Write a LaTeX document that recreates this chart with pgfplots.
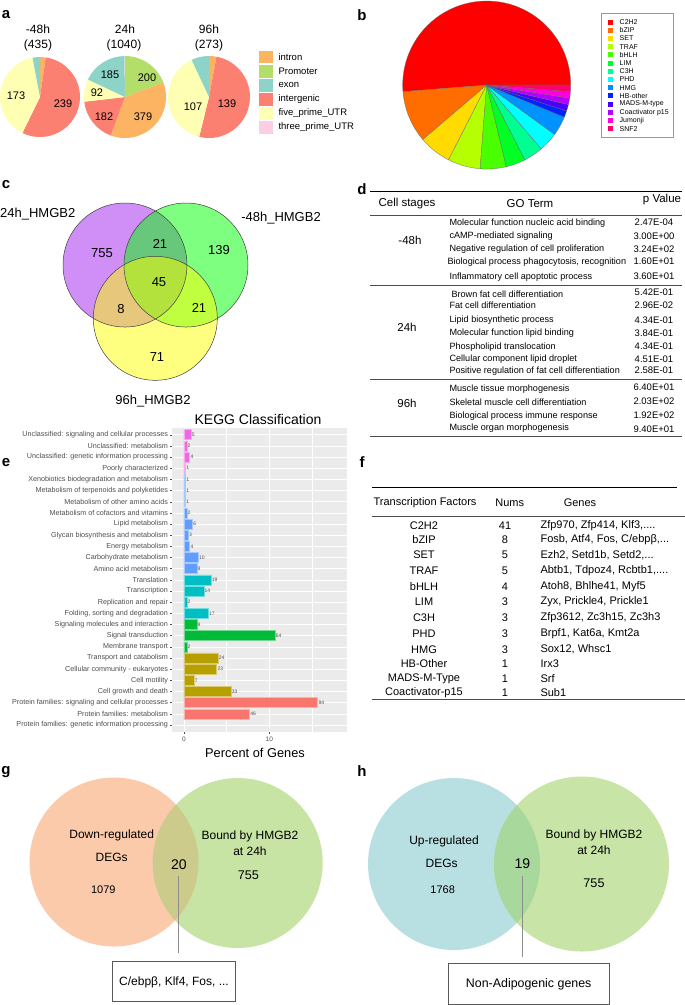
\documentclass[border=0pt]{standalone}
\usepackage{fontspec}
\setmainfont{Liberation Sans}
\usepackage{pgfplots}
\usepackage{pgfplotstable}
\pgfplotsset{compat=1.18}

\newcommand\fs[1]{\fontsize{#1}{#1}\selectfont}

% panel a colours (Set3)
\definecolor{cIntron}{HTML}{FDB462}
\definecolor{cProm}{HTML}{B3DE69}
\definecolor{cExon}{HTML}{8DD3C7}
\definecolor{cInter}{HTML}{FB8072}
\definecolor{cFive}{HTML}{FFFFB3}
\definecolor{cThree}{HTML}{FCCDE5}
% panel b colours (rainbow 14)
\definecolor{r1}{HTML}{FF0000}\definecolor{r2}{HTML}{FF6D00}
\definecolor{r3}{HTML}{FFDB00}\definecolor{r4}{HTML}{B6FF00}
\definecolor{r5}{HTML}{49FF00}\definecolor{r6}{HTML}{00FF24}
\definecolor{r7}{HTML}{00FF92}\definecolor{r8}{HTML}{00FFFF}
\definecolor{r9}{HTML}{0092FF}\definecolor{r10}{HTML}{0024FF}
\definecolor{r11}{HTML}{4900FF}\definecolor{r12}{HTML}{B600FF}
\definecolor{r13}{HTML}{FF00DB}\definecolor{r14}{HTML}{FF006D}
% venn colours
\definecolor{vPurple}{RGB}{160,32,240}
\definecolor{vGreen}{RGB}{0,255,0}
\definecolor{vYellow}{RGB}{255,255,0}
\definecolor{gOrange}{RGB}{251,202,170}
\definecolor{gGreen}{RGB}{199,228,165}
\definecolor{gMix}{RGB}{205,203,140}
\definecolor{hBlue}{RGB}{184,223,226}
\definecolor{hGreen}{RGB}{200,228,166}
\definecolor{hMix}{RGB}{168,216,156}
% kegg colours
\definecolor{kPink}{HTML}{F564E3}
\definecolor{kBlue}{HTML}{619CFF}
\definecolor{kTeal}{HTML}{00BFC4}
\definecolor{kGreen}{HTML}{00BA38}
\definecolor{kOlive}{HTML}{B79F00}
\definecolor{kRed}{HTML}{F8766D}
\definecolor{kBack}{HTML}{EBEBEB}
\definecolor{kText}{HTML}{4D4D4D}

% clockwise slice from 12 o'clock: cx cy r cumulative value total colour
\newcommand\cwslice[7]{%
  \fill[#7] (axis cs:#1,#2) -- ++({90-(#4)/(#6)*360}:#3pt)
    arc[start angle={90-(#4)/(#6)*360}, end angle={90-(#4+#5)/(#6)*360}, radius=#3pt] -- cycle;}
% counter-clockwise slice from 3 o'clock
\newcommand\ccwslice[7]{%
  \filldraw[fill=#7, draw=black!60, line width=0.25pt] (axis cs:#1,#2) -- ++({(#4)/(#6)*360}:#3pt)
    arc[start angle={(#4)/(#6)*360}, end angle={(#4+#5)/(#6)*360}, radius=#3pt] -- cycle;}

% KEGG: category index, percent of genes, gene count
\pgfplotstableread{
idx pct n
1 0.83 5
2 0.33 2
3 0.67 4
4 0.17 1
}\keggPink
\pgfplotstableread{
idx pct n
5 0.17 1
6 0.17 1
7 0.17 1
8 0.33 2
9 1.00 6
10 0.50 3
11 0.67 4
12 1.67 10
13 1.50 9
}\keggBlue
\pgfplotstableread{
idx pct n
14 3.17 19
15 2.33 14
16 0.33 2
17 2.83 17
}\keggTeal
\pgfplotstableread{
idx pct n
18 1.50 9
19 10.67 64
20 0.33 2
}\keggGreen
\pgfplotstableread{
idx pct n
21 4.00 24
22 3.83 23
23 1.17 7
24 5.50 33
}\keggOlive
\pgfplotstableread{
idx pct n
25 15.67 94
26 7.67 46
}\keggRed

\begin{document}
\begin{tikzpicture}
\begin{axis}[at={(0pt,0pt)}, anchor=north west, hide axis,
  x=1pt, y=1pt, xmin=0, xmax=685, ymin=0, ymax=1005, y dir=reverse,
  enlargelimits=false, clip=false]

% panel letters
\node[font=\fs{15}\bfseries] at (6,15) {a};
\node[font=\fs{15}\bfseries] at (362,15) {b};
\node[font=\fs{15}\bfseries] at (6,185) {c};
\node[font=\fs{15}\bfseries] at (362,189) {d};
\node[font=\fs{15}\bfseries] at (6,463) {e};
\node[font=\fs{15}\bfseries] at (362,462) {f};
\node[font=\fs{15}\bfseries] at (6,772) {g};
\node[font=\fs{15}\bfseries] at (362,771) {h};

% ---------- a: peak annotation pies ----------
\cwslice{40}{97}{40}{0}{10}{435}{cIntron}
\cwslice{40}{97}{40}{10}{239}{435}{cInter}
\cwslice{40}{97}{40}{249}{173}{435}{cFive}
\cwslice{40}{97}{40}{422}{13}{435}{cExon}

\cwslice{125}{97}{41}{0}{200}{1040}{cProm}
\cwslice{125}{97}{41}{200}{379}{1040}{cIntron}
\cwslice{125}{97}{41}{579}{182}{1040}{cInter}
\cwslice{125}{97}{41}{761}{92}{1040}{cFive}
\cwslice{125}{97}{41}{853}{185}{1040}{cExon}
\cwslice{125}{97}{41}{1038}{2}{1040}{cThree}

\cwslice{209}{97}{41}{0}{8}{273}{cIntron}
\cwslice{209}{97}{41}{8}{139}{273}{cInter}
\cwslice{209}{97}{41}{147}{107}{273}{cFive}
\cwslice{209}{97}{41}{254}{19}{273}{cExon}

\begin{scope}[font=\fs{12}]
\node at (38,29) {-48h}; \node at (38,45) {(435)};
\node at (125,29) {24h}; \node at (124,45) {(1040)};
\node at (209,29) {96h}; \node at (209,45) {(273)};
\end{scope}
\begin{scope}[font=\fs{11}]
\node at (16,96) {173}; \node at (63,104) {239};
\node at (110,75) {185}; \node at (147,78) {200}; \node at (97,93) {92};
\node at (104,117) {182}; \node at (143,117) {379};
\node at (193,107) {107}; \node at (227,104) {139};
\end{scope}
\begin{scope}[font=\fs{9.5}]
\fill[cIntron] (259,50.5) rectangle (273,63);
\fill[cProm]   (259,64.5) rectangle (273,77.5);
\fill[cExon]   (259,79) rectangle (273,91.5);
\fill[cInter]  (259,93) rectangle (273,105.5);
\fill[cFive]   (259,107) rectangle (273,119.5);
\fill[cThree]  (259,121) rectangle (273,133.5);
\node[anchor=west] at (275,57) {intron};
\node[anchor=west] at (275,71) {Promoter};
\node[anchor=west] at (275,85) {exon};
\node[anchor=west] at (275,99) {intergenic};
\node[anchor=west] at (275,113) {five\_prime\_UTR};
\node[anchor=west] at (275,127) {three\_prime\_UTR};
\end{scope}

% ---------- b: TF family pie ----------
\ccwslice{486.7}{85}{84}{0}{41}{80}{r1}
\ccwslice{486.7}{85}{84}{41}{8}{80}{r2}
\ccwslice{486.7}{85}{84}{49}{5}{80}{r3}
\ccwslice{486.7}{85}{84}{54}{5}{80}{r4}
\ccwslice{486.7}{85}{84}{59}{4}{80}{r5}
\ccwslice{486.7}{85}{84}{63}{3}{80}{r6}
\ccwslice{486.7}{85}{84}{66}{3}{80}{r7}
\ccwslice{486.7}{85}{84}{69}{3}{80}{r8}
\ccwslice{486.7}{85}{84}{72}{3}{80}{r9}
\ccwslice{486.7}{85}{84}{75}{1}{80}{r10}
\ccwslice{486.7}{85}{84}{76}{1}{80}{r11}
\ccwslice{486.7}{85}{84}{77}{1}{80}{r12}
\ccwslice{486.7}{85}{84}{78}{1}{80}{r13}
\ccwslice{486.7}{85}{84}{79}{1}{80}{r14}

\draw[black!40, line width=0.5pt] (601.7,13.3) rectangle (673.3,137.7);
\begin{scope}[font=\fs{7}]
\foreach \lab/\col/\yy in {C2H2/r1/22, bZIP/r2/30.2, SET/r3/38.4, TRAF/r4/46.6,
   bHLH/r5/54.8, LIM/r6/63, C3H/r7/71.2, PHD/r8/79.4, HMG/r9/87.6, HB-other/r10/95.8,
   MADS-M-type/r11/104, Coactivator p15/r12/112.2, Jumonji/r13/120.4, SNF2/r14/128.6}{
  \edef\tmp{\noexpand\fill[\col] (608.3,\yy-2.5) rectangle (613.3,\yy+2.5);
    \noexpand\node[anchor=west, inner sep=0pt] at (619.5,\yy) {\lab};}\tmp}
\end{scope}

% ---------- c: three-way Venn ----------
\fill[vPurple, fill opacity=0.5] (125,265) circle[radius=62pt];
\fill[vGreen, fill opacity=0.5] (186,265) circle[radius=62pt];
\fill[vYellow, fill opacity=0.5] (155.3,318.3) circle[radius=62pt];
\draw[black!75, line width=0.5pt] (125,265) circle[radius=62pt];
\draw[black!75, line width=0.5pt] (186,265) circle[radius=62pt];
\draw[black!75, line width=0.5pt] (155.3,318.3) circle[radius=62pt];
\begin{scope}[font=\fs{13}]
\node[anchor=west, inner sep=0pt] at (0,214) {24h\_HMGB2};
\node at (281,218) {-48h\_HMGB2};
\node at (153,401) {96h\_HMGB2};
\node at (102,253) {755}; \node at (160,244) {21}; \node at (219,250) {139};
\node at (159,282) {45}; \node at (121,309) {8}; \node at (199,308) {21};
\node at (157,357) {71};
\end{scope}

% ---------- d: GO table ----------
\draw[line width=1pt] (370,191.7) -- (682,191.7);
\draw[black!70, line width=0.7pt] (370,215) -- (682,215);
\draw[black!70, line width=0.7pt] (370,285) -- (682,285);
\draw[black!70, line width=0.7pt] (370,379.3) -- (682,379.3);
\draw[black!70, line width=0.7pt] (370,436) -- (682,436);
\begin{scope}[font=\fs{11.5}]
\node at (407,204) {Cell stages};
\node at (530,204) {GO Term};
\node at (662,200) {p Value};
\node at (410,240) {-48h};
\node at (407,327) {24h};
\node at (407,403) {96h};
\end{scope}
\begin{scope}[font=\fs{9.1}]
\node[anchor=west] at (446,222.7) {Molecular function nucleic acid binding};
\node[anchor=west] at (446,236) {cAMP-mediated signaling};
\node[anchor=west] at (446,249) {Negative regulation of cell proliferation};
\node[anchor=west] at (444,261.7) {Biological process phagocytosis, recognition};
\node[anchor=west] at (446,276.7) {Inflammatory cell apoptotic process};
\node[anchor=west] at (448,294.3) {Brown fat cell differentiation};
\node[anchor=west] at (446,305.7) {Fat cell differentiation};
\node[anchor=west] at (446,320) {Lipid biosynthetic process};
\node[anchor=west] at (446,333) {Molecular function lipid binding};
\node[anchor=west] at (446,346.7) {Phospholipid translocation};
\node[anchor=west] at (446,359.3) {Cellular component lipid droplet};
\node[anchor=west] at (446,371) {Positive regulation of fat cell differentiation};
\node[anchor=west] at (446,389) {Muscle tissue morphogenesis};
\node[anchor=west] at (446,402.3) {Skeletal muscle cell differentiation};
\node[anchor=west] at (446,415.7) {Biological process immune response};
\node[anchor=west] at (446,427.7) {Muscle organ morphogenesis};
\end{scope}
\begin{scope}[font=\fs{9.5}]
\foreach \pv/\yy in {2.47E-04/222.7, 3.00E+00/236, 3.24E+02/249, 1.60E+01/261.7,
   3.60E+01/276.7, 5.42E-01/292.3, 2.96E-02/305.7, 4.34E-01/320, 3.84E-01/333,
   4.34E-01/346.7, 4.51E-01/359.3, 2.58E-01/370, 6.40E+01/387, 2.03E+02/401.3,
   1.92E+02/415.7, 9.40E+01/429}{
  \edef\tmp{\noexpand\node at (654,\yy) {\pv};}\tmp}
\end{scope}

% ---------- e: titles ----------
\node[font=\fs{14}] at (258,419) {KEGG Classification};
\node[font=\fs{12.8}] at (255,752.7) {Percent of Genes};

% ---------- f: TF table ----------
\draw[line width=0.8pt] (371.7,487.7) -- (676.7,487.7);
\draw[black!70, line width=0.8pt] (371.7,516) -- (685,516);
\draw[black!70, line width=0.8pt] (371.7,699.3) -- (685,699.3);
\begin{scope}[font=\fs{11}]
\node at (425,502.3) {Transcription Factors};
\node at (509.7,502.3) {Nums};
\node at (580,502.3) {Genes};
\foreach \tf/\nm/\gn/\yy in {C2H2/41/{Zfp970, Zfp414, Klf3,....}/526,
   bZIP/8/{Fosb, Atf4, Fos, C/ebpβ,...}/539.5,
   SET/5/{Ezh2, Setd1b, Setd2,...}/555,
   TRAF/5/{Abtb1, Tdpoz4, Rcbtb1,....}/570.5,
   bHLH/4/{Atoh8, Bhlhe41, Myf5}/586.5,
   LIM/3/{Zyx, Prickle4, Prickle1}/602,
   C3H/3/{Zfp3612, Zc3h15, Zc3h3}/618,
   PHD/3/{Brpf1, Kat6a, Kmt2a}/634,
   HMG/3/{Sox12, Whsc1}/649.3,
   HB-Other/1/{Irx3}/663.3,
   MADS-M-Type/1/{Srf}/679,
   Coactivator-p15/1/{Sub1}/692.5}{
  \edef\tmp{\noexpand\node at (424,\yy) {\tf};
    \noexpand\node at (505,\yy) {\nm};
    \noexpand\node[anchor=west] at (537,\yy) {\unexpanded\expandafter{\gn}};}\tmp}
\end{scope}

% ---------- g: down-regulated Venn ----------
\fill[gOrange] (114,862) circle[radius=84.5pt];
\fill[gGreen] (237.7,863) circle[radius=85pt];
\begin{scope}
\clip (114,862) circle[radius=84.5pt];
\fill[gMix] (237.7,863) circle[radius=85pt];
\end{scope}
\begin{scope}[font=\fs{12}]
\node at (111.7,835) {Down-regulated};
\node at (111.7,857.3) {DEGs};
\node[font=\fs{11}] at (103.3,889.3) {1079};
\node[font=\fs{14}] at (179,865) {20};
\node at (250,836) {Bound by HMGB2};
\node at (250,850.7) {at 24h};
\node[font=\fs{12.6}] at (248.3,875) {755};
\end{scope}
\draw[black!45, line width=0.6pt] (178,876) -- (178,953.3);
\draw[black!65, line width=0.6pt, fill=white] (112.3,961.7) rectangle (235.7,1001.7);
\node[font=\fs{12}] at (174,982) {C/ebpβ, Klf4, Fos, ...};

% ---------- h: up-regulated Venn ----------
\fill[hBlue] (454,864) circle[radius=86pt];
\fill[hGreen] (581.5,864) circle[radius=87.5pt];
\begin{scope}
\clip (454,864) circle[radius=86pt];
\fill[hMix] (581.5,864) circle[radius=87.5pt];
\end{scope}
\begin{scope}[font=\fs{12}]
\node at (444,841.7) {Up-regulated};
\node at (441.7,863.3) {DEGs};
\node[font=\fs{11}] at (442.7,890) {1768};
\node[font=\fs{14}] at (522.3,863.3) {19};
\node at (594,835) {Bound by HMGB2};
\node at (594,850) {at 24h};
\node[font=\fs{12.6}] at (594,883.3) {755};
\end{scope}
\draw[black!45, line width=0.6pt] (522,876) -- (522,957);
\draw[black!65, line width=0.6pt, fill=white] (448.3,963.3) rectangle (609.3,1004);
\node[font=\fs{12.4}] at (528.7,984) {Non-Adipogenic genes};
\end{axis}

% ---------- e: KEGG bar chart ----------
\begin{axis}[at={(171.7pt,-731.7pt)}, anchor=south west, scale only axis,
  width=175pt, height=303.7pt,
  xbar, bar width=0.9, bar shift=0pt,
  xmin=-1.44, xmax=19.07, ymin=0.4, ymax=27.6, y dir=reverse,
  enlargelimits=false,
  axis background/.style={fill=kBack},
  axis line style={draw=none},
  xtick={0,10}, minor xtick={5,15},
  ytick={1,...,27},
  yticklabels={{Unclassified: signaling and cellular processes},
    {Unclassified: metabolism},
    {Unclassified: genetic information processing},
    {Poorly characterized},
    {Xenobiotics biodegradation and metabolism},
    {Metabolism of terpenoids and polyketides},
    {Metabolism of other amino acids},
    {Metabolism of cofactors and vitamins},
    {Lipid metabolism},
    {Glycan biosynthesis and metabolism},
    {Energy metabolism},
    {Carbohydrate metabolism},
    {Amino acid metabolism},
    {Translation},
    {Transcription},
    {Replication and repair},
    {Folding, sorting and degradation},
    {Signaling molecules and interaction},
    {Signal transduction},
    {Membrane transport},
    {Transport and catabolism},
    {Cellular community - eukaryotes},
    {Cell motility},
    {Cell growth and death},
    {Protein families: signaling and cellular processes},
    {Protein families: metabolism},
    {Protein families: genetic information processing}},
  xmajorgrids, ymajorgrids, xminorgrids,
  major grid style={white, line width=0.7pt},
  minor grid style={white, line width=0.35pt},
  tick align=outside, major tick length=2pt, minor tick length=0pt,
  xtick pos=left, ytick pos=left,
  tick style={kText, line width=0.4pt},
  yticklabel style={font=\fs{7.2}, text=kText, inner sep=1.5pt},
  xticklabel style={font=\fs{6.5}, text=kText},
  /pgf/number format/assume math mode=true,
  nodes near coords, point meta=explicit,
  nodes near coords style={font=\fs{5}, text=kText, anchor=west, inner sep=0.6pt},
]
\addplot[fill=kPink, draw=kPink!55!white, line width=0.5pt] table[x=pct, y=idx, meta=n] {\keggPink};
\addplot[fill=kBlue, draw=kBlue!55!white, line width=0.5pt] table[x=pct, y=idx, meta=n] {\keggBlue};
\addplot[fill=kTeal, draw=kTeal!55!white, line width=0.5pt] table[x=pct, y=idx, meta=n] {\keggTeal};
\addplot[fill=kGreen, draw=kGreen!55!white, line width=0.5pt] table[x=pct, y=idx, meta=n] {\keggGreen};
\addplot[fill=kOlive, draw=kOlive!55!white, line width=0.5pt] table[x=pct, y=idx, meta=n] {\keggOlive};
\addplot[fill=kRed, draw=kRed!55!white, line width=0.5pt] table[x=pct, y=idx, meta=n] {\keggRed};
\end{axis}

\pgfresetboundingbox
\useasboundingbox (0pt,0pt) rectangle (685pt,-1005pt);
\end{tikzpicture}
\end{document}
